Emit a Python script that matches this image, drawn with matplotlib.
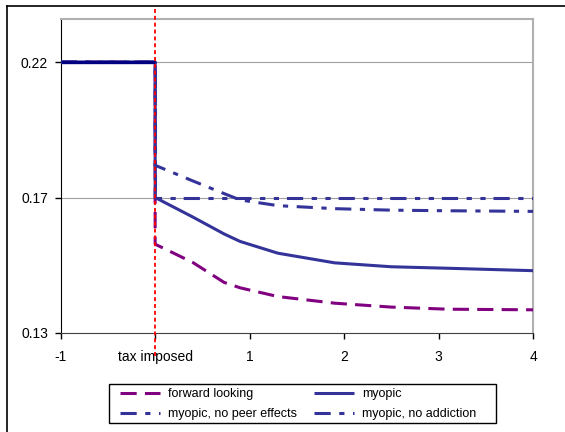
import matplotlib
matplotlib.use('Agg')
import matplotlib.pyplot as plt
from matplotlib.lines import Line2D
from matplotlib.patches import Rectangle
from matplotlib.ticker import FormatStrFormatter

plt.rcParams['font.family'] = ['Liberation Sans', 'DejaVu Sans']

# periods after the tax (0 = tax imposed)
t = [0, 0.4, 0.73, 0.9, 1.3, 1.9, 2.5, 3.1, 4]
pre_t = [-1, 0]
baseline = 0.22

forward = [0.1595, 0.1534, 0.1468, 0.1450, 0.1421, 0.1399, 0.1386, 0.1379, 0.1377]
myopic = [0.175, 0.1685, 0.1629, 0.1604, 0.1565, 0.1533, 0.1520, 0.1515, 0.1507]
no_peer = [0.1857, 0.1805, 0.1763, 0.1742, 0.1723, 0.1713, 0.1708, 0.1706, 0.1704]
no_addict = [0.175, 0.175, 0.175, 0.175, 0.175, 0.175, 0.175, 0.175, 0.175]

xticks = [-1, 0, 1, 2, 3, 4]
xticklabels = ['-1', 'tax imposed', '1', '2', '3', '4']
yticks = [0.13, 0.175, 0.22]

navy = '#333399'
purple = '#800080'

fig = plt.figure(figsize=(5.65, 4.32), dpi=100)
ax = fig.add_axes([0.1074, 0.2292, 0.836, 0.7268])

ax.set_xlim(-1, 4)
ax.set_ylim(0.13, 0.2343)

for y in yticks[1:]:
    ax.axhline(y, color='#a0a0a0', lw=0.8, zorder=1)

lw = 2.2

def series(vals):
    return pre_t + t, [baseline, baseline] + vals

x, y = series(forward)
l1, = ax.plot(x, y, color=purple, lw=lw, ls=(0, (5.3, 2.7)), label='forward looking', zorder=3)
x, y = series(no_peer)
l3, = ax.plot(x, y, color=navy, lw=lw, ls=(0, (5.3, 2.8, 1.7, 2.8)), label='myopic, no peer effects', zorder=3)
x, y = series(no_addict)
l4, = ax.plot(x, y, color=navy, lw=lw, ls=(0, (5.3, 2.8, 1.7, 2.8, 1.7, 2.6)), label='myopic, no addiction', zorder=3)
x, y = series(myopic)
l2, = ax.plot(x, y, color=navy, lw=lw, solid_capstyle='butt', label='myopic', zorder=4)
ax.plot(pre_t, [baseline, baseline], color='#000080', lw=2.4, solid_capstyle='butt', zorder=5)

# tax line
ax.axvline(0, ymin=-0.073, ymax=1.041, color='red', lw=1.3, ls=(0, (2.2, 1.6)),
           clip_on=False, zorder=6)

ax.set_xticks(xticks)
ax.set_xticklabels(xticklabels)
ax.set_yticks(yticks)
ax.yaxis.set_major_formatter(FormatStrFormatter('%.2f'))
ax.tick_params(axis='both', direction='out', length=4, width=1, labelsize=10, colors='black')
ax.tick_params(axis='x', pad=8)
ax.tick_params(axis='y', pad=5)

ax.spines['left'].set_color('black')
ax.spines['bottom'].set_color('#404040')
ax.spines['top'].set_color('#b0b0b0')
ax.spines['right'].set_color('#b0b0b0')
for s in ['top', 'right']:
    ax.spines[s].set_linewidth(1.5)

handles = [l1, l3, l2, l4]
leg = fig.legend(handles, [h.get_label() for h in handles],
                 loc='upper left', bbox_to_anchor=(120 / 565, 1 - 388.5 / 432),
                 ncol=2, fontsize=9, frameon=False, handlelength=3.2, handletextpad=0.64,
                 columnspacing=1.36, borderpad=0, labelspacing=0.62, borderaxespad=0)
# legend box
fig.add_artist(Rectangle((109 / 565, 1 - 423 / 432), 387 / 565, 39 / 432,
                         transform=fig.transFigure, fill=False, edgecolor='black', lw=1.0))

# outer chart border (top and left)
fig.add_artist(Line2D([7 / 565, 1], [1 - 6 / 432, 1 - 6 / 432], color='black', lw=1.2))
fig.add_artist(Line2D([7 / 565, 7 / 565], [0, 1 - 6 / 432], color='black', lw=1.2))

fig.savefig('out.png', dpi=100)
